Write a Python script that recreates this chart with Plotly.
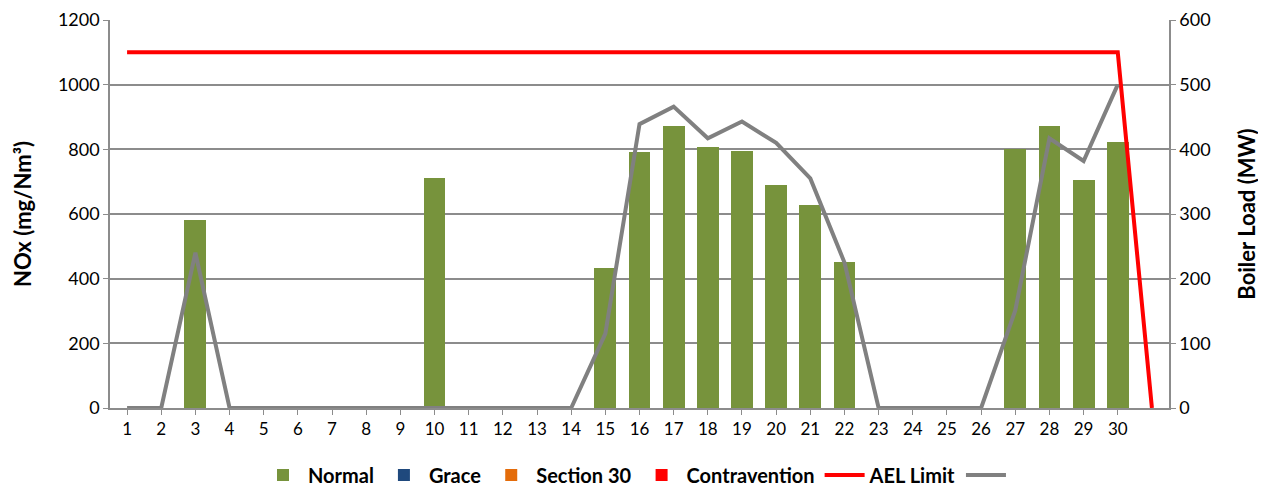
import plotly.graph_objects as go

days = list(range(1, 32))
tick_days = list(range(1, 31))
tick_labels = [str(d) for d in tick_days]

normal = [None, None, 580, None, None, None, None, None, None, 710,
          None, None, None, None, 434, 793, 873, 808, 795, 689,
          629, 451, None, None, None, None, 800, 873, 706, 822, None]
grace = [0] * 31
section30 = [0] * 31
contravention = [0] * 31
ael_limit = [1100] * 30 + [0]
boiler_load = [0, 0, 240, 0, 0, 0, 0, 0, 0, 0,
               0, 0, 0, 0, 115, 439, 466, 417, 443, 410,
               355, 225, 0, 0, 0, 0, 151, 417, 382, 500, None]

FONT = "Lato, 'Open Sans', sans-serif"
GRID = "#8c8c8c"

fig = go.Figure()
for name, vals, col in [("Normal", normal, "#77933c"),
                        ("Grace", grace, "#1f497d"),
                        ("Section 30", section30, "#e46c0a"),
                        ("Contravention", contravention, "#ff0000")]:
    fig.add_trace(go.Bar(x=days, y=vals, name=name, marker_color=col,
                         marker_line_width=0))

fig.add_trace(go.Scatter(x=days, y=ael_limit, name="AEL Limit", mode="lines",
                         line=dict(color="#ff0000", width=4)))
fig.add_trace(go.Scatter(x=days, y=boiler_load, name=" ", mode="lines",
                         line=dict(color="#808080", width=4), yaxis="y2"))

fig.update_layout(
    width=1258, height=481,
    margin=dict(l=102, r=97, t=12, b=81, autoexpand=False),
    plot_bgcolor="white", paper_bgcolor="white",
    barmode="stack", bargap=0.36,
    font=dict(family=FONT, size=16, color="#000000"),
    xaxis=dict(range=[0.5, 31.5], tickvals=tick_days, ticktext=tick_labels,
               showgrid=False, showline=True, linecolor=GRID, linewidth=1.5,
               ticks="outside", ticklen=5, tickcolor=GRID,
               tickfont=dict(size=17), zeroline=False),
    yaxis=dict(range=[0, 1200], dtick=200, showgrid=True, gridcolor=GRID,
               gridwidth=1.5, showline=True, linecolor=GRID, linewidth=1.5,
               ticks="outside", ticklen=5, tickcolor=GRID,
               title=dict(text="<b>NOx (mg/Nm³)</b>", font=dict(size=22), standoff=20),
               tickfont=dict(size=18), zeroline=False),
    yaxis2=dict(range=[0, 600], dtick=100, overlaying="y", side="right",
                showgrid=False, showline=True, linecolor=GRID, linewidth=1.5,
                ticks="outside", ticklen=5, tickcolor=GRID,
                title=dict(text="<b>Boiler Load (MW)</b>", font=dict(size=22), standoff=30),
                tickfont=dict(size=18), zeroline=False),
    legend=dict(orientation="h", x=0.5, xanchor="center",
                yref="container", y=0.029, yanchor="middle",
                font=dict(size=20, family=FONT, weight="bold"),
                traceorder="normal", itemwidth=40),
    showlegend=True,
)

fig.write_html("out.html")
